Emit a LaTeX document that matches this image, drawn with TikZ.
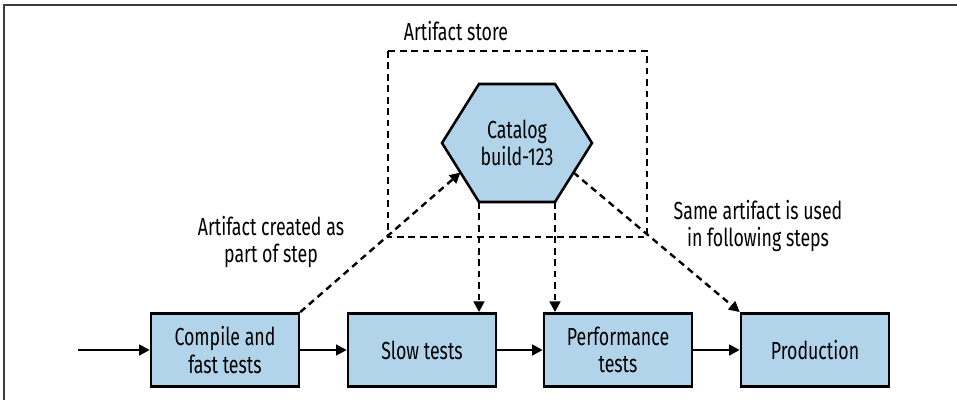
\documentclass[tikz,border=0pt]{standalone}
\usepackage{fontspec}
\setmainfont{Fira Sans}[FakeStretch=0.72]
\usetikzlibrary{arrows.meta,calc}
\definecolor{boxblue}{RGB}{178,212,234}
\definecolor{framegray}{RGB}{60,60,60}
\tikzset{
  stepbox/.style={draw=black, line width=1.9pt, fill=boxblue, minimum width=111pt, minimum height=55pt, inner sep=0pt, align=center, font=\fontsize{18.5}{20.5}\selectfont},
  lbl/.style={align=center, inner sep=0pt, font=\fontsize{18.5}{20.5}\selectfont},
  flow/.style={line width=1.8pt, -{Triangle[length=8pt,width=8pt]}},
  dashflow/.style={line width=1.8pt, dash pattern=on 5pt off 3.6pt, -{Triangle[length=8pt,width=8pt]}},
  storebox/.style={line width=1.8pt, dash pattern=on 5pt off 3.6pt},
}
\begin{document}
\begin{tikzpicture}[x=0.75pt,y=-0.75pt]
\useasboundingbox (0,0) rectangle (957,400);
% frame
\draw[framegray, line width=1.2pt] (4,400) -- (4,5) -- (957,5);
% step boxes
\node[stepbox] (comp) at (225,350) {Compile and\\fast tests};
\node[stepbox] (slow) at (422,350) {Slow tests};
\node[stepbox] (perf) at (618,350) {Performance\\tests};
\node[stepbox] (prod) at (815,350) {Production};
\coordinate (in) at (78,350);
\draw[flow] (in) -- (comp.west);
\draw[flow] (comp.east) -- (slow.west);
\draw[flow] (slow.east) -- (perf.west);
\draw[flow] (perf.east) -- (prod.west);
% artifact store
\coordinate (stl) at (388,51);
\coordinate (sbr) at (647,237);
\draw[storebox] (stl) rectangle (sbr);
\node[lbl] (storelbl) at (456,31) {Artifact store};
% hexagon
\coordinate (htl) at (479,84);
\coordinate (htr) at (555,84);
\coordinate (hr) at (592,143);
\coordinate (hbr) at (555,202);
\coordinate (hbl) at (479,202);
\coordinate (hl) at (442,143);
\draw[line width=1.9pt, fill=boxblue, line join=miter] (htl) -- (htr) -- (hr) -- (hbr) -- (hbl) -- (hl) -- cycle;
\node[lbl] (cat) at (517,143) {Catalog\\build-123};
% dashed connectors
\draw[dashflow] (comp.north east) -- ($(hl)!0.5!(hbl)$);
\draw[dashflow] ($(hr)!0.5!(hbr)$) -- (prod.north west);
\draw[dashflow] (hbl) -- (hbl |- slow.north);
\draw[dashflow] (hbr) -- (hbr |- perf.north);
% labels
\node[lbl] (created) at (271,242) {Artifact created as\\part of step};
\node[lbl] (used) at (758,226) {Same artifact is used\\in following steps};
\end{tikzpicture}
\end{document}
